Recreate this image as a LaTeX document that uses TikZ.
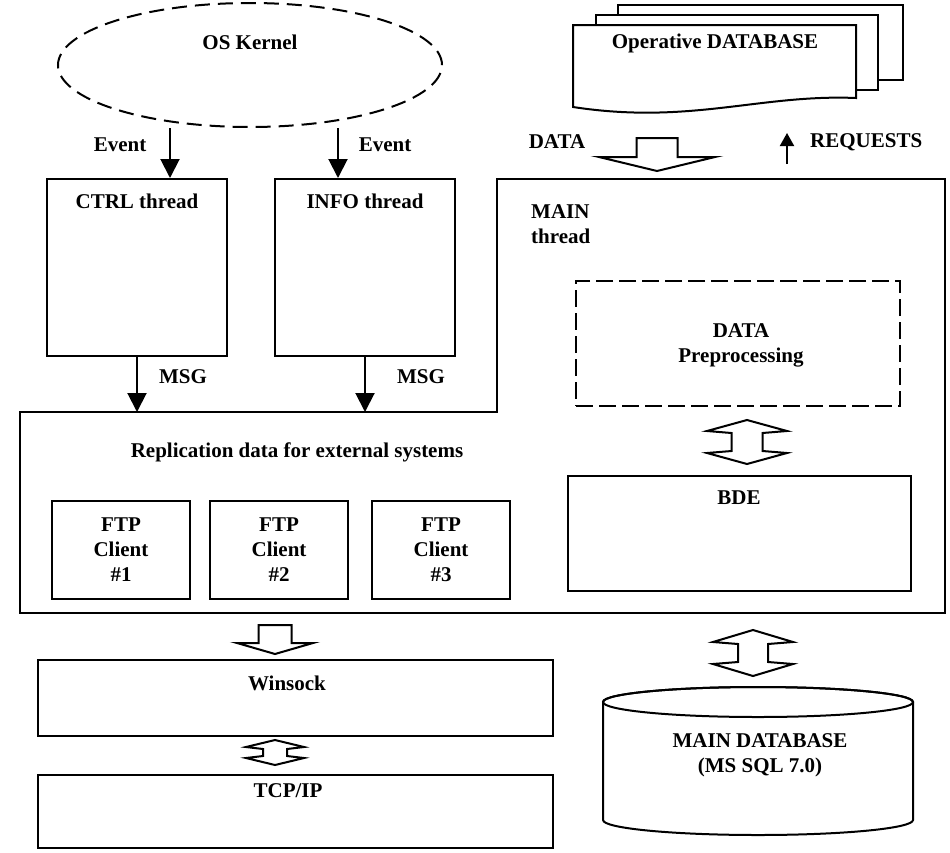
\documentclass[tikz,border=0pt]{standalone}
\usepackage{fontspec}
\setmainfont{Liberation Serif}
\usetikzlibrary{shapes.geometric,arrows.meta,calc}

% hollow two-headed block arrow between two tip coordinates
% #1 top tip, #2 bottom tip, #3 half head width, #4 half shaft width, #5 head length
\newcommand\twowayarrow[5]{%
  \draw[hollow] let \p1=(#1), \p2=(#2) in
    (\x1,\y1) -- (\x1+#3pt,\y1-#5pt) -- (\x1+#4pt,\y1-#5pt-2pt)
    -- (\x1+#4pt,\y2+#5pt+2pt) -- (\x1+#3pt,\y2+#5pt) -- (\x1,\y2)
    -- (\x1-#3pt,\y2+#5pt) -- (\x1-#4pt,\y2+#5pt+2pt)
    -- (\x1-#4pt,\y1-#5pt-2pt) -- (\x1-#3pt,\y1-#5pt) -- cycle;}
% hollow one-headed block arrow pointing down
\newcommand\downblockarrow[5]{%
  \draw[hollow] let \p1=(#1), \p2=(#2) in
    (\x1-#4pt,\y1) -- (\x1+#4pt,\y1) -- (\x1+#4pt,\y2+#5pt)
    -- (\x1+#3pt,\y2+#5pt) -- (\x1,\y2) -- (\x1-#3pt,\y2+#5pt)
    -- (\x1-#4pt,\y2+#5pt) -- cycle;}

\tikzset{
  txt/.style={font=\fontsize{21}{25}\selectfont\bfseries, inner sep=0pt, align=center},
  box/.style={draw, line width=2pt, rectangle, inner sep=0pt},
  dashbox/.style={box, dash pattern=on 17pt off 6pt},
  hollow/.style={draw, line width=2pt, fill=white, line join=miter},
  evarrow/.style={draw, line width=2pt, -{Triangle[length=19pt,width=19pt]}},
  reqarrow/.style={draw, line width=2pt, -{Triangle[length=13pt,width=14pt]}},
  docpage/.style={draw, line width=2pt, fill=white},
}

\begin{document}
\begin{tikzpicture}[x=1pt,y=-1pt]
\useasboundingbox (0,0) rectangle (950,852);

% ---- OS kernel and the two event threads ----
\node[ellipse, draw, line width=2pt, dash pattern=on 15pt off 8pt,
      minimum width=384pt, minimum height=124pt] (kernel) at (250,65) {};
\node[txt] at (250,42) {OS Kernel};

\node[box, minimum width=180pt, minimum height=177pt] (ctrl) at (137,267.5) {};
\node[txt] at (137,201) {CTRL thread};
\node[box, minimum width=180pt, minimum height=177pt] (info) at (365,267.5) {};
\node[txt] at (365,201) {INFO thread};

\coordinate (evL) at ($(ctrl.north)+(33,0)$);
\coordinate (evR) at ($(info.north)+(-27,0)$);
\draw[evarrow] (kernel.south -| evL) -- (evL);
\draw[evarrow] (kernel.south -| evR) -- (evR);
\node[txt] at (120,145) {Event};
\node[txt] at (385,145) {Event};

% ---- main thread / replication region (L-shaped outline) ----
\coordinate (regTL) at (20,412);
\coordinate (regNotch) at (497,412);
\coordinate (mainTL) at (497,179);
\coordinate (mainTR) at (945,179);
\coordinate (regBR) at (945,613);
\coordinate (regBL) at (20,613);
\draw[line width=2pt, line join=miter]
  (regTL) -- (regNotch) -- (mainTL) -- (mainTR) -- (regBR) -- (regBL) -- cycle;

\draw[evarrow] (ctrl.south) -- (ctrl.south |- regTL);
\draw[evarrow] (info.south) -- (info.south |- regTL);
\node[txt] at (183,377) {MSG};
\node[txt] at (421,377) {MSG};

\node[txt, anchor=west, align=left] at (531,224.5) {MAIN\\thread};

\node[dashbox, minimum width=324pt, minimum height=125pt] (prep) at (738,343.5) {};
\node[txt] at (741,345) {DATA\\Preprocessing};

\node[box, minimum width=343pt, minimum height=115pt] (bde) at (739.5,533.5) {};
\node[txt] at (739,498) {BDE};

\coordinate (pbT) at ($(prep.south)+(9,13)$);
\coordinate (pbB) at ($(bde.north)+(7.5,-11)$);
\twowayarrow{pbT}{pbB}{40}{15.5}{11}

\node[txt] at (297,452) {Replication data for external systems};
\node[box, minimum width=138pt, minimum height=98pt] (ftp1) at (121,550) {};
\node[box, minimum width=138pt, minimum height=98pt] (ftp2) at (279,550) {};
\node[box, minimum width=138pt, minimum height=98pt] (ftp3) at (441,550) {};
\node[txt] at (ftp1) {FTP\\Client\\\#1};
\node[txt] at (ftp2) {FTP\\Client\\\#2};
\node[txt] at (ftp3) {FTP\\Client\\\#3};

% ---- network stack ----
\node[box, minimum width=515pt, minimum height=76pt] (winsock) at (295.5,698) {};
\node[txt] at (287,683) {Winsock};
\node[box, minimum width=515pt, minimum height=73pt] (tcp) at (295.5,811.5) {};
\node[txt] at (288,791) {TCP/IP};

\coordinate (repT) at (275,625);
\coordinate (repB) at (275,654);
\downblockarrow{repT}{repB}{38}{16.5}{11}
\coordinate (wtT) at ($(winsock.south -| repB)+(0,3)$);
\coordinate (wtB) at ($(tcp.north -| repB)+(0,-9)$);
\twowayarrow{wtT}{wtB}{29}{12}{7}

% ---- main database cylinder ----
\draw[line width=2pt, fill=white]
  (603,702) -- (603,820)
  arc[start angle=180, end angle=360, x radius=155pt, y radius=15pt]
  -- (913,702)
  arc[start angle=0, end angle=180, x radius=155pt, y radius=15pt] -- cycle;
\draw[line width=2pt] (758,702) ellipse[x radius=155pt, y radius=15pt];
\node[inner sep=0pt, minimum width=310pt, minimum height=148pt] (maindb) at (758,761) {};
\node[txt] at (760,755) {MAIN DATABASE\\(MS SQL 7.0)};

\coordinate (bdT) at (753,630);
\coordinate (bdB) at (753,676);
\twowayarrow{bdT}{bdB}{40}{15}{12}

% ---- operative database (stacked pages) ----
\draw[docpage] (618,5) rectangle (903,80);
\draw[docpage] (596,15) rectangle (878,90);
\draw[docpage] (573,25) -- (856,25) -- (856,98)
  .. controls (760,94) and (690,125) .. (573,107) -- cycle;
\node[inner sep=0pt, minimum width=283pt, minimum height=85pt] (opdb) at (714.5,67) {};
\node[txt] at (715,43) {Operative DATABASE};

\coordinate (dT) at (657,138);
\coordinate (dB) at (657,171);
\downblockarrow{dT}{dB}{58}{20.5}{14}
\node[txt] at (557,142) {DATA};

\coordinate (rqB) at (787,164);
\coordinate (rqT) at (787,133);
\draw[reqarrow] (rqB) -- (rqT);
\node[txt, anchor=west] at (810,142) {REQUESTS};
\end{tikzpicture}
\end{document}
